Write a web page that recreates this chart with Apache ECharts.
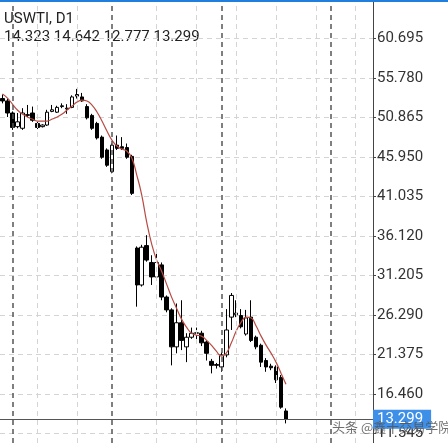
<!DOCTYPE html>
<html>
<head>
<meta charset="utf-8">
<script src="https://cdn.jsdelivr.net/npm/echarts@6/dist/echarts.min.js"></script>
<style>
html,body{margin:0;padding:0;background:#fff;overflow:hidden;}
#c{width:448px;height:443px;}
</style>
</head>
<body>
<div id="c"></div>
<script>
const symbolName = 'USWTI, D1';
const categories = [
 '2020-01-30','2020-01-31','2020-02-03','2020-02-04','2020-02-05','2020-02-06','2020-02-07',
 '2020-02-10','2020-02-11','2020-02-12','2020-02-13','2020-02-14','2020-02-17','2020-02-18',
 '2020-02-19','2020-02-20','2020-02-21','2020-02-24','2020-02-25','2020-02-26','2020-02-27',
 '2020-02-28','2020-03-02','2020-03-03','2020-03-04','2020-03-05','2020-03-06','2020-03-09',
 '2020-03-10','2020-03-11','2020-03-12','2020-03-13','2020-03-16','2020-03-17','2020-03-18',
 '2020-03-19','2020-03-20','2020-03-23','2020-03-24','2020-03-25','2020-03-26','2020-03-27',
 '2020-03-30','2020-03-31','2020-04-01','2020-04-02','2020-04-03','2020-04-06','2020-04-07',
 '2020-04-08','2020-04-09','2020-04-10','2020-04-13','2020-04-14','2020-04-15','2020-04-16',
 '2020-04-17','2020-04-20',
 '2020-04-21','2020-04-22','2020-04-23','2020-04-24','2020-04-27','2020-04-28','2020-04-29',
 '2020-04-30','2020-05-01','2020-05-04','2020-05-05','2020-05-06','2020-05-07','2020-05-08',
 '2020-05-11','2020-05-12','2020-05-13'
];
const opens  = [53.2,52.9,51.4,49.7,49.5,51.1,51.4,50.1,49.7,49.9,51.6,51.5,52.2,51.9,52.1,53.5,53.4,52.2,51.1,50.1,48.4,46.8,44.1,47.4,47.2,47.1,46.0,34.6,30.0,34.9,32.8,31.0,32.5,28.5,26.9,22.3,25.3,22.3,23.5,24.0,24.0,22.9,20.5,20.1,19.8,21.3,26.0,26.3,26.2,23.9,26.0,23.5,22.5,20.6,19.9,19.8,18.5,14.323];
const highs  = [53.7,53.2,51.6,51.4,52.0,52.4,52.2,50.3,50.0,51.8,52.4,52.3,52.6,52.5,53.6,54.4,53.9,52.5,51.3,50.3,48.6,47.0,47.6,48.6,48.4,47.6,46.2,34.8,35.0,36.2,33.7,33.9,32.8,28.7,27.1,27.7,28.1,24.0,24.7,24.7,24.3,23.1,20.8,20.3,21.6,27.0,29.0,28.1,27.0,26.9,28.1,23.7,22.7,20.9,20.2,20.0,18.8,14.642];
const lows   = [52.6,50.9,49.3,49.5,49.3,50.9,50.3,49.4,49.6,49.8,51.5,51.4,52.0,51.3,52.0,53.2,52.8,50.6,49.3,48.1,45.7,44.7,43.9,46.8,46.8,45.7,41.2,27.3,29.8,32.9,30.0,30.6,28.1,26.6,20.0,21.5,21.9,20.4,23.3,22.8,22.4,20.6,19.0,19.6,19.2,21.0,24.4,26.0,24.6,23.7,22.9,22.0,19.8,19.2,19.4,17.8,14.6,12.777];
const closes = [52.9,51.4,49.6,50.3,51.4,51.2,50.5,49.6,49.9,51.5,51.8,52.1,52.3,52.0,53.4,53.7,52.9,50.8,49.5,48.3,45.9,44.9,47.4,47.0,47.0,45.9,41.4,30.0,34.7,33.1,31.0,32.8,28.5,26.9,22.3,25.3,23.1,23.5,24.0,24.05,22.8,21.5,20.0,20.0,21.3,24.4,28.7,26.5,24.8,25.9,23.1,22.3,20.4,19.8,19.7,18.2,14.8,13.299];
const maValues = [53.76,53.26,52.51,51.77,51.27,50.90,50.65,50.40,50.40,50.40,50.65,50.90,51.27,51.77,52.27,52.76,53.01,52.89,52.39,51.52,50.40,49.15,48.03,47.29,46.91,46.67,45.79,43.68,41.19,37.82,35.09,33.09,31.72,30.11,28.49,27.12,25.75,24.76,24.01,23.76,23.64,23.14,22.52,21.77,21.15,21.52,22.77,24.26,25.38,26.01,25.88,24.89,23.64,22.52,21.52,20.40,19.03,17.66];
const yTicks = [11.545,16.460,21.375,26.290,31.205,36.120,41.035,45.950,50.865,55.780,60.695];
const yMin = 10.338;
const yMax = 65.461;
const monthSeparators = ['2020-02-03','2020-03-02','2020-04-01','2020-05-01'];
const gridVerticals = ['2020-02-10','2020-02-20','2020-03-13','2020-03-25','2020-04-06','2020-04-16','2020-04-28','2020-05-08'];
const watermark = '头条 @鑫十交易学院';

const candleData = opens.map((o, i) => [o, closes[i], lows[i], highs[i]]);
const last = candleData.length - 1;
const ohlcText = [opens[last], highs[last], lows[last], closes[last]].map(v => v.toFixed(3)).join(' ');

const chart = echarts.init(document.getElementById('c'), null, {renderer: 'canvas', width: 448, height: 443});
chart.setOption({
  animation: false,
  backgroundColor: '#ffffff',
  grid: {left: 0, right: 75, top: 0, bottom: 0},
  xAxis: {
    type: 'category', data: categories, boundaryGap: true,
    axisLine: {show: false}, axisTick: {show: false}, axisLabel: {show: false},
    splitLine: {show: false}
  },
  yAxis: {
    type: 'value', position: 'right', min: yMin, max: yMax, scale: true,
    axisLine: {show: true, lineStyle: {color: '#444', width: 1}},
    axisTick: {show: true, length: 3, lineStyle: {color: '#444'}, customValues: yTicks},
    axisLabel: {
      show: true, margin: 4, color: '#333',
      fontFamily: 'Roboto', fontSize: 15,
      customValues: yTicks,
      formatter: v => Number(v).toFixed(3)
    },
    splitLine: {show: true, lineStyle: {color: '#d4d4d4', type: [5, 4], width: 1}}
  },
  series: [
    {
      type: 'line', data: [], silent: true,
      markLine: {
        symbol: 'none', silent: true, animation: false,
        label: {show: false},
        lineStyle: {color: '#d4d4d4', type: [5, 4], width: 1},
        data: gridVerticals.map(d => ({xAxis: d}))
      }
    },
    {
      type: 'line', data: [], silent: true,
      markLine: {
        symbol: 'none', silent: true, animation: false,
        label: {show: false},
        lineStyle: {color: '#555', type: [5, 4], width: 1.5},
        data: monthSeparators.map(d => ({xAxis: d}))
      }
    },
    {
      type: 'candlestick', data: candleData, barWidth: 4,
      itemStyle: {
        color: '#ffffff', color0: '#000000',
        borderColor: '#000000', borderColor0: '#000000', borderWidth: 1
      },
      markLine: {
        symbol: 'none', silent: true, animation: false,
        lineStyle: {color: '#555', type: 'solid', width: 1},
        label: {
          show: true, position: 'end', distance: 0,
          formatter: () => closes[last].toFixed(3),
          backgroundColor: '#3d8fe8', color: '#fff', fontFamily: 'Roboto', fontSize: 15,
          padding: [2, 8, 2, 4]
        },
        data: [{yAxis: closes[last]}]
      }
    },
    {
      type: 'line', data: maValues, smooth: true, showSymbol: false, silent: true,
      lineStyle: {color: '#b84a43', width: 1.2}
    }
  ],
  graphic: [
    {type: 'rect', left: 0, top: 0, z: 100, shape: {width: 448, height: 2}, style: {fill: '#1f7ee0'}},
    {type: 'text', left: 4, top: 12, style: {text: symbolName, fill: '#222', font: '15px Roboto'}},
    {type: 'text', left: 4, top: 30, style: {text: ohlcText, fill: '#222', font: '15px Roboto'}},
    {type: 'text', left: 332, top: 421, z: 100, style: {text: watermark, fill: 'rgba(85,85,85,0.85)', font: '13px "Noto Sans CJK SC"'}}
  ]
});
</script>
</body>
</html>
